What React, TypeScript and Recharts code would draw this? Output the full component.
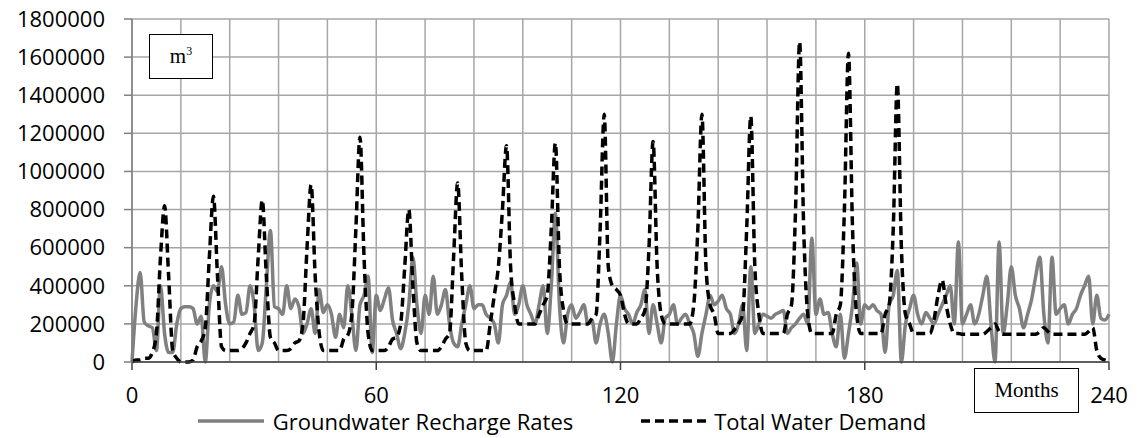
import { CartesianGrid, Legend, Line, LineChart, XAxis, YAxis } from "recharts";

const months = Array.from({ length: 241 }, (_, i) => i);

const recharge = [
  0, 300000, 470000, 210000, 190000, 180000, 60000, 400000, 150000, 50000, 50000, 200000,
  280000, 290000, 290000, 280000, 200000, 240000, 0, 300000, 400000, 370000, 500000, 300000,
  200000, 210000, 350000, 250000, 260000, 400000, 300000, 60000, 100000, 400000, 690000, 290000,
  280000, 250000, 400000, 280000, 330000, 290000, 150000, 200000, 280000, 150000, 380000, 260000,
  300000, 250000, 130000, 250000, 180000, 400000, 250000, 60000, 300000, 350000, 450000, 50000,
  350000, 270000, 330000, 390000, 220000, 150000, 70000, 150000, 300000, 550000, 300000, 150000,
  350000, 250000, 450000, 250000, 300000, 380000, 200000, 100000, 80000, 200000, 300000, 400000,
  280000, 300000, 300000, 250000, 230000, 200000, 100000, 300000, 350000, 420000, 250000, 300000,
  400000, 300000, 250000, 200000, 300000, 400000, 150000, 400000, 780000, 300000, 100000, 250000,
  300000, 230000, 260000, 300000, 200000, 220000, 100000, 200000, 250000, 150000, 0, 200000,
  350000, 280000, 250000, 200000, 260000, 300000, 380000, 150000, 300000, 200000, 100000, 230000,
  250000, 300000, 200000, 230000, 250000, 200000, 150000, 30000, 150000, 250000, 350000, 300000,
  320000, 350000, 280000, 250000, 150000, 200000, 300000, 60000, 500000, 150000, 200000, 250000,
  240000, 230000, 250000, 260000, 270000, 150000, 180000, 200000, 230000, 250000, 200000, 650000,
  250000, 330000, 250000, 260000, 150000, 80000, 250000, 20000, 150000, 300000, 520000, 200000,
  300000, 280000, 300000, 270000, 250000, 50000, 300000, 350000, 480000, 0, 200000, 280000,
  350000, 250000, 200000, 260000, 230000, 200000, 250000, 300000, 350000, 400000, 200000, 630000,
  200000, 250000, 300000, 200000, 250000, 350000, 450000, 200000, 0, 630000, 150000, 300000,
  500000, 350000, 280000, 180000, 250000, 330000, 450000, 550000, 250000, 100000, 550000, 250000,
  280000, 300000, 200000, 250000, 280000, 350000, 400000, 450000, 200000, 350000, 230000, 220000,
  250000,
];

const demand = [
  0, 10000, 10000, 20000, 20000, 50000, 150000, 550000, 820000, 450000, 60000, 20000,
  0, 0, 0, 10000, 80000, 110000, 180000, 550000, 870000, 450000, 80000, 60000,
  60000, 60000, 60000, 70000, 100000, 150000, 200000, 550000, 850000, 450000, 130000, 100000,
  60000, 60000, 60000, 70000, 100000, 110000, 200000, 600000, 930000, 450000, 150000, 60000,
  60000, 60000, 60000, 60000, 120000, 140000, 250000, 700000, 1180000, 550000, 150000, 60000,
  60000, 60000, 60000, 80000, 120000, 130000, 200000, 500000, 800000, 400000, 100000, 60000,
  60000, 60000, 60000, 60000, 80000, 120000, 150000, 550000, 940000, 450000, 100000, 60000,
  60000, 60000, 60000, 60000, 200000, 350000, 500000, 800000, 1135000, 500000, 300000, 200000,
  200000, 200000, 200000, 200000, 250000, 300000, 350000, 700000, 1150000, 500000, 270000, 200000,
  200000, 200000, 200000, 200000, 200000, 230000, 250000, 700000, 1300000, 500000, 400000, 380000,
  350000, 250000, 200000, 200000, 200000, 230000, 270000, 600000, 1157000, 500000, 250000, 200000,
  200000, 200000, 200000, 200000, 200000, 200000, 300000, 700000, 1300000, 500000, 300000, 250000,
  150000, 150000, 150000, 150000, 170000, 200000, 250000, 700000, 1290000, 500000, 250000, 150000,
  150000, 150000, 150000, 150000, 150000, 250000, 300000, 800000, 1680000, 700000, 250000, 150000,
  150000, 150000, 150000, 150000, 150000, 250000, 300000, 800000, 1620000, 700000, 250000, 150000,
  150000, 150000, 150000, 150000, 150000, 250000, 300000, 700000, 1460000, 600000, 250000, 200000,
  150000, 150000, 150000, 150000, 150000, 220000, 350000, 430000, 300000, 200000, 150000, 150000,
  145000, 145000, 145000, 145000, 145000, 145000, 160000, 180000, 200000, 160000, 145000, 145000,
  145000, 145000, 145000, 145000, 145000, 145000, 145000, 160000, 180000, 160000, 145000, 145000,
  145000, 145000, 145000, 145000, 145000, 145000, 145000, 160000, 180000, 60000, 20000, 10000,
  0,
];

const xTicks = [0, 60, 120, 180, 240];
const gridTicks = [0, 12, 24, 36, 48, 60, 72, 84, 96, 108, 120, 132, 144, 156, 168, 180, 192, 204, 216, 228, 240];
const yTicks = [0, 200000, 400000, 600000, 800000, 1000000, 1200000, 1400000, 1600000, 1800000];

const rows = months.map((m, i) => ({ month: m, recharge: recharge[i], demand: demand[i] }));

const font = "'Open Sans', 'Liberation Sans', sans-serif";
const serif = "'Liberation Serif', 'DejaVu Serif', serif";

// vertical grid every 12 months, taken from the x axis scale
const monthGrid = ({ xAxis, offset }: any) =>
  gridTicks.map((t) =>
    xAxis && typeof xAxis.scale === "function" ? xAxis.scale(t) : offset.left + (offset.width * t) / 240,
  );

function LegendRow() {
  return (
    <div
      style={{
        display: "flex",
        justifyContent: "center",
        alignItems: "center",
        fontFamily: font,
        fontSize: 22,
        color: "#000",
        paddingTop: 4,
        marginLeft: -18,
      }}
    >
      <svg width={66} height={10}>
        <line x1={0} y1={5} x2={66} y2={5} stroke="#808080" strokeWidth={3.5} />
      </svg>
      <span style={{ marginLeft: 9, marginRight: 68 }}>Groundwater Recharge Rates</span>
      <svg width={68} height={10}>
        <line x1={0} y1={5} x2={68} y2={5} stroke="#000" strokeWidth={3.5} strokeDasharray="9 5" />
      </svg>
      <span style={{ marginLeft: 5 }}>Total Water Demand</span>
    </div>
  );
}

export default function App() {
  return (
    <div style={{ position: "absolute", left: 0, top: 0, width: 1142, height: 438, background: "#fff" }}>
      <LineChart width={1142} height={438} data={rows} margin={{ top: 19, right: 33, bottom: 0, left: 0 }}>
        <CartesianGrid stroke="#a6a6a6" strokeWidth={1.5} verticalCoordinatesGenerator={monthGrid} />
        <XAxis
          dataKey="month"
          type="number"
          domain={[0, 240]}
          ticks={xTicks}
          height={40}
          tickSize={8}
          tickMargin={17}
          tickLine={{ stroke: "#404040", strokeWidth: 1.5 }}
          axisLine={{ stroke: "#404040", strokeWidth: 1.5 }}
          tick={{ fill: "#000", fontSize: 22, fontFamily: font }}
        />
        <YAxis
          type="number"
          domain={[0, 1800000]}
          ticks={yTicks}
          width={132}
          interval={0}
          tickSize={8}
          tickMargin={19}
          tickLine={{ stroke: "#808080", strokeWidth: 1.5 }}
          axisLine={{ stroke: "#808080", strokeWidth: 1.5 }}
          tick={{ fill: "#000", fontSize: 22, fontFamily: font }}
        />
        <Legend
          verticalAlign="bottom"
          height={36}
          content={() => <LegendRow />}
          wrapperStyle={{ left: 0, width: 1142 }}
        />
        <Line
          type="monotone"
          dataKey="recharge"
          stroke="#808080"
          strokeWidth={3.5}
          dot={false}
          isAnimationActive={false}
        />
        <Line
          type="monotone"
          dataKey="demand"
          stroke="#000"
          strokeWidth={3.5}
          strokeDasharray="9 5"
          dot={false}
          isAnimationActive={false}
        />
      </LineChart>
      <div
        style={{
          position: "absolute",
          left: 149,
          top: 34,
          width: 62,
          height: 43,
          border: "1px solid #000",
          background: "#fff",
          display: "flex",
          alignItems: "center",
          justifyContent: "center",
          fontFamily: serif,
          fontSize: 21,
        }}
      >
        <span>
          m<sup style={{ fontSize: 12 }}>3</sup>
        </span>
      </div>
      <div
        style={{
          position: "absolute",
          left: 974,
          top: 368,
          width: 103,
          height: 43,
          border: "1px solid #000",
          background: "#fff",
          display: "flex",
          alignItems: "center",
          justifyContent: "center",
          fontFamily: serif,
          fontSize: 21,
        }}
      >
        Months
      </div>
    </div>
  );
}
